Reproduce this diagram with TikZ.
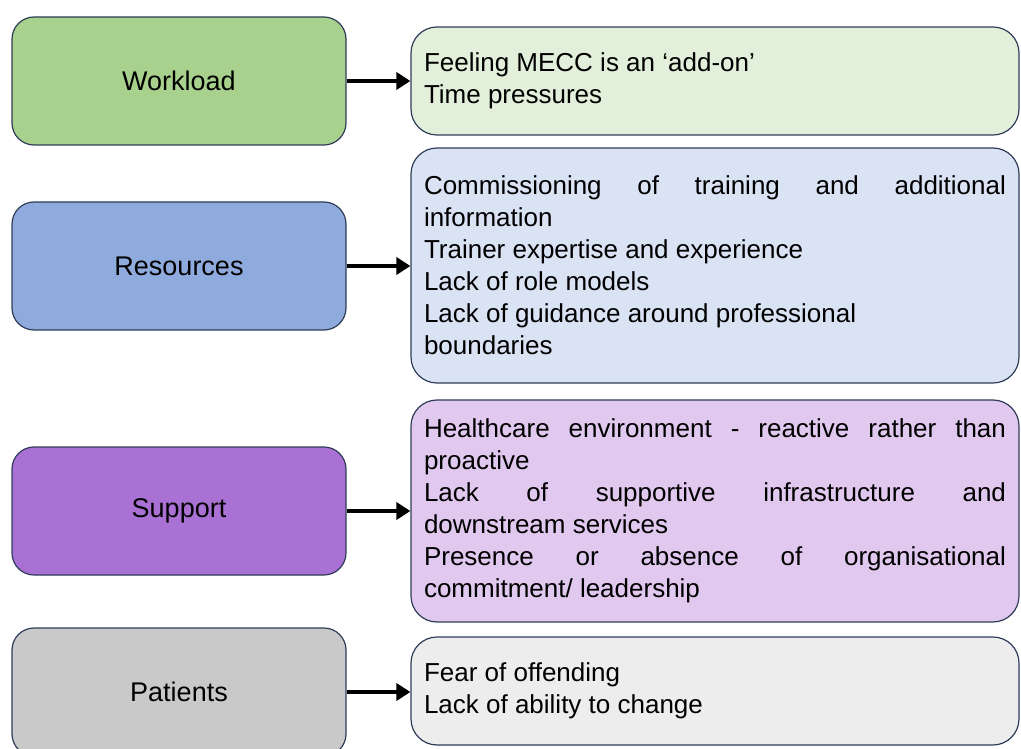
\documentclass[tikz,border=0pt]{standalone}
\usepackage{fontspec}
\setmainfont{Liberation Sans}
\usetikzlibrary{arrows.meta}

\definecolor{workGreen}{HTML}{A9D18E}
\definecolor{workGreenLt}{HTML}{E2EFDA}
\definecolor{resBlue}{HTML}{8FAADC}
\definecolor{resBlueLt}{HTML}{DAE3F3}
\definecolor{supPurple}{HTML}{A971D4}
\definecolor{supPurpleLt}{HTML}{E0C8EE}
\definecolor{patGrey}{HTML}{C9C9C9}
\definecolor{patGreyLt}{HTML}{EDEDED}
\definecolor{boxEdge}{HTML}{2F3D58}

\begin{document}
\begin{tikzpicture}[x=1pt, y=-1pt,
	catbox/.style={draw=boxEdge, line width=1.2pt, rounded corners=22pt, minimum width=334pt, minimum height=128pt, font=\fontsize{27}{32}\selectfont},
	itembox/.style={draw=boxEdge, line width=1.2pt, rounded corners=26pt, minimum width=608pt, text width=582pt, align=justify, font=\fontsize{26}{32}\selectfont},
	arr/.style={line width=4.5pt, -{Triangle[length=14pt, width=17pt]}}]
	\useasboundingbox (0,0) rectangle (1021,749);
	% categories on the left
	\node[catbox, fill=workGreen] (workload) at (179,81) {Workload};
	\node[catbox, fill=resBlue] (resources) at (179,266) {Resources};
	\node[catbox, fill=supPurple] (support) at (179,511) {Support};
	\node[catbox, fill=patGrey] (patients) at (179,692) {Patients};
	% barriers on the right
	\node[itembox, fill=workGreenLt, minimum height=108pt] (workloadItems) at (715,81) {Feeling MECC is an ‘add-on’\\ Time pressures};
	\node[itembox, fill=resBlueLt, minimum height=235pt] (resourcesItems) at (715,265.5) {Commissioning of training and additional\linebreak information\\ Trainer expertise and experience\\ Lack of role models\\ Lack of guidance around professional\\ boundaries};
	\node[itembox, fill=supPurpleLt, minimum height=222pt] (supportItems) at (715,511) {Healthcare environment - reactive rather than\linebreak proactive\\ Lack of supportive infrastructure and\linebreak downstream services\\ Presence or absence of organisational\linebreak commitment/ leadership};
	\node[itembox, fill=patGreyLt, minimum height=108pt] (patientsItems) at (715,691) {Fear of offending\\ Lack of ability to change};
	% arrows
	\draw[arr] (workload.east) -- (workload.east -| workloadItems.west);
	\draw[arr] (resources.east) -- (resources.east -| resourcesItems.west);
	\draw[arr] (support.east) -- (support.east -| supportItems.west);
	\draw[arr] (patients.east) -- (patients.east -| patientsItems.west);
\end{tikzpicture}
\end{document}
